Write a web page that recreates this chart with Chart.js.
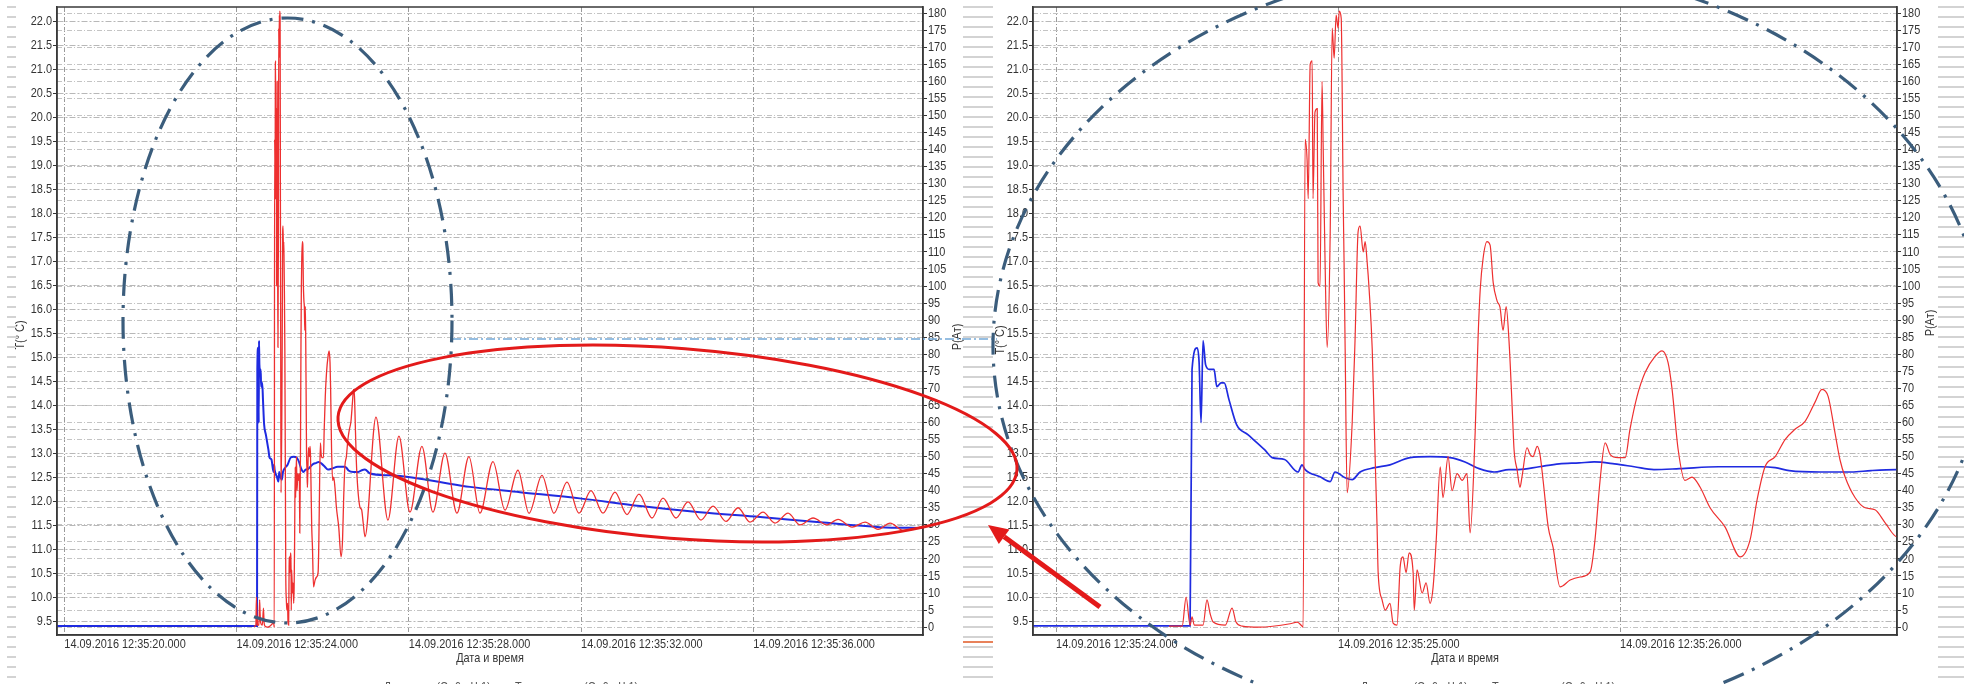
<!DOCTYPE html>
<html>
<head>
<meta charset="utf-8">
<script src="https://cdn.jsdelivr.net/npm/chart.js@4.4.1/dist/chart.umd.min.js"></script>
<style>
html, body { margin: 0; padding: 0; background: #fff; width: 1964px; height: 684px; overflow: hidden; }
.box { position: absolute; top: 0; height: 684px; }
#leftBox { left: 0; width: 975px; }
#rightBox { left: 976px; width: 973px; }
#marks { position: absolute; left: 0; top: 0; pointer-events: none; }
</style>
</head>
<body>
<div class="box" id="leftBox"><canvas id="leftChart"></canvas></div>
<div class="box" id="rightBox"><canvas id="rightChart"></canvas></div>
<canvas id="marks" width="1964" height="684"></canvas>
<script>
// time axis = seconds after 12:35:00
const leftTicks = [20, 24, 28, 32, 36];
const rightTicks = [24, 25, 26];
const tTicks = [9.5, 10.0, 10.5, 11.0, 11.5, 12.0, 12.5, 13.0, 13.5, 14.0, 14.5, 15.0, 15.5,
  16.0, 16.5, 17.0, 17.5, 18.0, 18.5, 19.0, 19.5, 20.0, 20.5, 21.0, 21.5, 22.0];
const pTicks = [0, 5, 10, 15, 20, 25, 30, 35, 40, 45, 50, 55, 60, 65, 70, 75, 80, 85, 90,
  95, 100, 105, 110, 115, 120, 125, 130, 135, 140, 145, 150, 155, 160, 165, 170, 175, 180];

// temperature T(°C)
const tempTime = [19.8, 24.475, 24.482, 24.50, 24.507, 24.514, 24.521, 24.53, 24.543, 24.56,
  24.57, 24.585, 24.596, 24.613, 24.64, 24.68, 24.74, 24.766, 24.81, 24.858,
  24.872, 24.883, 24.936, 24.972, 24.989, 25.025, 25.05, 25.078, 25.13, 25.184,
  25.255, 25.326, 25.397, 25.45, 25.50, 25.553, 25.606, 25.64, 25.713, 25.784,
  25.855, 25.908, 25.98, 26.05, 26.12, 26.21, 26.35, 26.50, 26.55, 26.60,
  26.71, 26.82, 26.89, 26.98, 27.10, 27.56, 28.03, 28.72, 29.42, 30.58,
  31.97, 33.37, 34.76, 36.16, 37.55, 38.94, 39.94];
const tempVal = [9.40, 9.40, 14.75, 15.2, 14.9, 13.64, 15.35, 14.85, 14.75, 14.75,
  14.39, 14.47, 14.47, 14.12, 13.6, 13.39, 13.07, 12.91, 12.87, 12.61,
  12.76, 12.66, 12.51, 12.41, 12.61, 12.49, 12.45, 12.61, 12.70, 12.76,
  12.91, 12.93, 12.91, 12.82, 12.68, 12.61, 12.66, 12.66, 12.72, 12.78,
  12.80, 12.82, 12.78, 12.72, 12.66, 12.68, 12.72, 12.72, 12.70, 12.64,
  12.61, 12.61, 12.64, 12.66, 12.58, 12.54, 12.50, 12.40, 12.30, 12.19,
  12.06, 11.90, 11.77, 11.67, 11.56, 11.46, 11.44];

// pressure P(Ат)
const presTime = [24.40, 24.447, 24.461, 24.475, 24.482, 24.49, 24.521, 24.535, 24.546, 24.557,
  24.60, 24.624, 24.638, 24.66, 24.72, 24.83, 24.855, 24.872, 24.876, 24.883,
  24.89, 24.894, 24.901, 24.908, 24.911, 24.918, 24.926, 24.929, 24.936, 24.943,
  24.947, 24.954, 24.961, 24.972, 24.979, 24.986, 24.993, 25.0, 25.004, 25.011,
  25.018, 25.021, 25.025, 25.032, 25.05, 25.06, 25.071, 25.078, 25.089, 25.096,
  25.103, 25.11, 25.121, 25.131, 25.138, 25.142, 25.156, 25.167, 25.184, 25.195,
  25.209, 25.22, 25.23, 25.241, 25.252, 25.266, 25.27, 25.28, 25.298, 25.312,
  25.326, 25.337, 25.348, 25.362, 25.372, 25.39, 25.404, 25.422, 25.44, 25.457,
  25.468, 25.486, 25.496, 25.504, 25.514, 25.528, 25.539, 25.55, 25.564, 25.574,
  25.585, 25.596, 25.606, 25.617, 25.624, 25.635, 25.645, 25.652, 25.67, 25.681,
  25.691, 25.706, 25.716, 25.727, 25.745, 25.762, 25.787, 25.823, 25.858, 25.894,
  25.911, 25.929, 25.947, 25.965, 25.993, 26.018, 26.035, 26.06, 26.089, 26.124,
  26.149, 26.17, 26.184, 26.206, 26.23, 26.255, 26.284, 26.319, 26.372, 26.426,
  26.461, 26.486, 26.514, 26.55, 26.585, 26.62, 26.656, 26.691, 26.716, 26.738,
  26.762, 26.78, 26.798, 26.833, 26.869, 26.904, 26.94, 26.982, 27.236, 27.515,
  27.77, 28.026, 28.304, 28.56, 28.839, 29.117, 29.396, 29.652, 29.954, 30.233,
  30.534, 30.79, 31.092, 31.371, 31.673, 31.951, 32.23, 32.509, 32.787, 33.066,
  33.345, 33.647, 33.902, 34.204, 34.483, 34.785, 35.064, 35.366, 35.645, 35.923,
  36.225, 36.504, 36.806, 37.085, 37.387, 37.712, 37.967, 38.293, 38.595, 38.897,
  39.176, 39.478, 39.94];
const presVal = [0.3, 0.3, 8.8, 0.5, 3, 0.6, 0.6, 8, 4, 1.5,
  0.6, 5.6, 1.5, 0.3, 0, 1, 1.5, 0.3, 0, 143,
  137, 125.6, 165, 166, 125.6, 151, 152, 101, 100, 160,
  141, 106, 82, 116, 175.6, 166.8, 179.4, 175.6, 180.6, 178.5,
  125.6, 108, 81.5, 39.4, 60, 84, 116, 117.6, 110, 113,
  107, 99, 81.5, 50.6, 30, 16, 8, 5, 7, 1.2,
  0.6, 17.6, 20.6, 16, 21.8, 16, 5, 16.8, 10, 13,
  7, 11.8, 25.6, 47, 38, 50, 40, 45, 43, 45,
  27.6, 57, 84, 99, 108, 113, 112, 101, 95.6, 93.8,
  87, 94, 84, 65, 52, 46, 41, 44, 52.6, 50.6,
  50, 53, 50.6, 43, 29.4, 23.5, 11.8, 13.8, 14.7, 16.2,
  25.6, 43, 54, 50.6, 49.7, 49.7, 58, 67.6, 74.7, 79.4,
  81, 77.6, 70, 52, 43, 44, 41, 35, 29.4, 20.6,
  25.6, 37.4, 47, 50, 55, 58, 60.3, 65.9, 69.7, 67.6,
  57, 49, 44, 38, 35, 34.4, 30.6, 26.5, 61.6, 31.4,
  56, 33.7, 53, 33.7, 51, 33.4, 50, 33.4, 48.5, 34.3,
  46, 33.4, 44.5, 33.4, 42.5, 33.4, 40, 33.4, 39.6, 33,
  39, 32, 37.8, 32, 36.7, 31.4, 35.5, 31, 35, 30.8,
  33.7, 30.5, 33.4, 30, 32, 30, 31.6, 29.3, 30.8, 28.7,
  30.5, 28.4, 29.5];

const FONT = "'Liberation Sans', Arial, sans-serif";
const SQ = 0.84; // the source screenshot is squeezed sideways
Chart.defaults.font.family = FONT;
Chart.defaults.font.size = 13;

const tempPts = tempTime.map((t, i) => ({ x: t, y: tempVal[i] }));
const presPts = presTime.map((t, i) => ({ x: t, y: presVal[i] }));

const fmtTime = v => '14.09.2016 12:35:' + String(v).padStart(2, '0') + '.000';

function narrowText(ctx, text, x, y, align, rot) {
  ctx.save();
  ctx.translate(x, y);
  if (rot) ctx.rotate(rot);
  ctx.scale(SQ, 1);
  ctx.textAlign = align;
  ctx.fillText(text, 0, 0);
  ctx.restore();
}

// frame, tick labels, axis titles and the cut-off legend line
const frame = {
  id: 'frame',
  afterDraw(chart, args, o) {
    const { ctx, chartArea: a, scales } = chart;
    ctx.save();
    ctx.strokeStyle = '#3a3a3a';
    ctx.lineWidth = 1.5;
    ctx.strokeRect(a.left, a.top, a.right - a.left, a.bottom - a.top);
    ctx.fillStyle = '#333';
    ctx.font = '13px ' + FONT;

    ctx.textBaseline = 'top';
    scales.x.ticks.forEach(t => {
      narrowText(ctx, fmtTime(t.value), scales.x.getPixelForValue(t.value), a.bottom + 3, 'left');
    });
    ctx.textBaseline = 'middle';
    scales.t.ticks.forEach(t => {
      narrowText(ctx, t.value.toFixed(1), a.left - 5, scales.t.getPixelForValue(t.value), 'right');
    });
    scales.p.ticks.forEach(t => {
      narrowText(ctx, String(t.value), a.right + 5, scales.p.getPixelForValue(t.value), 'left');
    });

    narrowText(ctx, 'Дата и время', (a.left + a.right) / 2, 658, 'center');
    narrowText(ctx, 'T(° C)', o.tX, o.tY, 'center', -Math.PI / 2);
    narrowText(ctx, 'P(Ат)', a.right + o.pX, o.pY, 'center', -Math.PI / 2);

    ctx.textBaseline = 'top';
    ctx.fillStyle = '#555';
    narrowText(ctx, 'Давление (Ст.6 - Ч.1)        Температура (Ст.6 - Ч.1)', o.legendX, 681, 'center');
    ctx.restore();
  }
};

function buildChart(id, xMin, xMax, xTicks, tWidth, pWidth, titles) {
  return new Chart(document.getElementById(id), {
    type: 'line',
    data: {
      datasets: [
        { label: 'P', data: presPts, yAxisID: 'p', borderColor: '#ee3030', borderWidth: pWidth },
        { label: 'T', data: tempPts, yAxisID: 't', borderColor: '#1f2be0', borderWidth: tWidth }
      ]
    },
    options: {
      responsive: true,
      maintainAspectRatio: false,
      animation: false,
      elements: { point: { radius: 0 }, line: { cubicInterpolationMode: 'monotone' } },
      layout: { padding: { top: 7, left: 0, right: 0, bottom: 0 } },
      plugins: { legend: { display: false }, tooltip: { enabled: false }, frame: titles },
      scales: {
        x: {
          type: 'linear', min: xMin, max: xMax,
          afterBuildTicks: s => { s.ticks = xTicks.map(v => ({ value: v })); },
          afterFit: s => { s.height = 49; s.paddingLeft = 0; s.paddingRight = 0; },
          ticks: { display: false },
          grid: { color: '#9a9a9a', drawTicks: false },
          border: { color: '#3a3a3a', width: 1.5, dash: [5, 2, 1, 2] }
        },
        t: {
          type: 'linear', position: 'left', min: 9.21, max: 22.31,
          afterBuildTicks: s => { s.ticks = tTicks.map(v => ({ value: v })); },
          afterFit: s => { s.width = 57; s.paddingTop = 0; s.paddingBottom = 0; },
          ticks: { display: false },
          grid: { color: '#b8b8b8', tickLength: 4, tickColor: '#333' },
          border: { color: '#3a3a3a', width: 1.5, dash: [6, 2, 2, 2] }
        },
        p: {
          type: 'linear', position: 'right', min: -2.3, max: 181.8,
          afterBuildTicks: s => { s.ticks = pTicks.map(v => ({ value: v })); },
          afterFit: s => { s.width = 52; s.paddingTop = 0; s.paddingBottom = 0; },
          ticks: { display: false },
          grid: { color: '#c4c4c4', tickLength: 4, tickColor: '#333' },
          border: { color: '#3a3a3a', width: 1.5, dash: [5, 2, 1, 2] }
        }
      }
    },
    plugins: [frame]
  });
}

buildChart('leftChart', 19.83, 39.94, leftTicks, 2, 1.3,
  { tX: 20, tY: 335, pX: 34, pY: 337, legendX: 511 });
buildChart('rightChart', 23.918, 26.982, rightTicks, 1.7, 1.2,
  { tX: 24, tY: 340, pX: 33, pY: 323, legendX: 512 });

// hand-drawn marks on top of the slide
const mk = document.getElementById('marks').getContext('2d');
mk.fillStyle = '#d3d3d3';
for (let y = 6; y < 684; y += 10) {
  mk.fillRect(7, y, 9, 2);
  mk.fillRect(963, y, 30, 2);
  mk.fillRect(1938, y, 26, 2);
}
mk.fillStyle = '#e8825a';
mk.fillRect(963, 641, 30, 2);

mk.save();
mk.strokeStyle = '#74a9d8';
mk.lineWidth = 1.5;
mk.setLineDash([9, 3, 2, 3]);
mk.beginPath();
mk.moveTo(452, 339);
mk.lineTo(997, 339);
mk.stroke();
mk.restore();

function dashEllipse(cx, cy, rx, ry) {
  mk.save();
  mk.strokeStyle = '#3b5d7c';
  mk.lineWidth = 3.2;
  mk.setLineDash([22, 9, 3, 9]);
  mk.beginPath();
  mk.ellipse(cx, cy, rx, ry, 0, 0, Math.PI * 2);
  mk.stroke();
  mk.restore();
}
dashEllipse(287.5, 320.5, 164.5, 302.5);
dashEllipse(1489, 346, 496, 382);

mk.save();
mk.strokeStyle = '#e31a1a';
mk.lineWidth = 3;
mk.beginPath();
mk.ellipse(677.5, 443.5, 340.5, 95, 4.5 * Math.PI / 180, 0, Math.PI * 2);
mk.stroke();

const tail = [1100, 607], tip = [988, 525];
const dx = tip[0] - tail[0], dy = tip[1] - tail[1];
const len = Math.hypot(dx, dy), ux = dx / len, uy = dy / len;
const bx = tip[0] - ux * 20, by = tip[1] - uy * 20;
mk.lineWidth = 5;
mk.beginPath();
mk.moveTo(tail[0], tail[1]);
mk.lineTo(bx, by);
mk.stroke();
mk.fillStyle = '#e31a1a';
mk.beginPath();
mk.moveTo(tip[0], tip[1]);
mk.lineTo(bx - uy * 9, by + ux * 9);
mk.lineTo(bx + uy * 9, by - ux * 9);
mk.closePath();
mk.fill();
mk.restore();
</script>
</body>
</html>
